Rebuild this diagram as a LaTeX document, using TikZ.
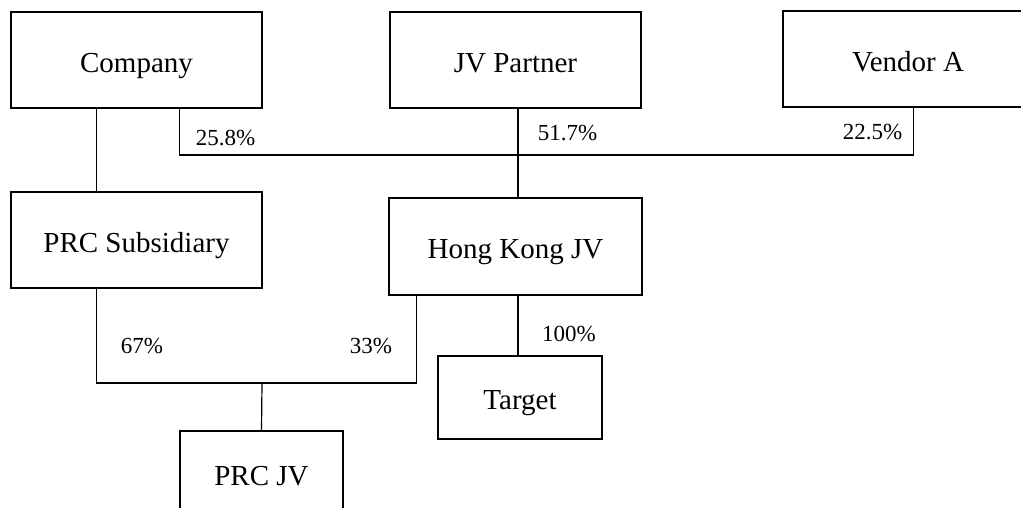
\documentclass[tikz,border=0pt]{standalone}
\usepackage{fontspec}
\setmainfont{Liberation Serif}
\begin{document}
\begin{tikzpicture}[x=1pt,y=-1pt,
  box/.style={draw,line width=1.2pt,inner sep=0pt,text height=24.2pt,text depth=0pt,font=\fontsize{29}{34}\selectfont},
  pct/.style={inner sep=0pt,text height=15.5pt,text depth=0pt,font=\fontsize{23}{27}\selectfont},
  conn/.style={line width=1.2pt}]
\useasboundingbox (0,0) rectangle (1021,507);
\clip (0,0) rectangle (1021,507);
% boxes
\node[box,minimum width=251pt,minimum height=96pt] (company) at (136.5,60) {Company};
\node[box,minimum width=251pt,minimum height=96pt] (jvp) at (515.5,60) {JV Partner};
\node[box,minimum width=250pt,minimum height=96pt] (vendor) at (908,59) {Vendor A};
\node[box,minimum width=251pt,minimum height=96pt] (prcsub) at (136.5,240) {PRC Subsidiary};
\node[box,minimum width=253pt,minimum height=97pt] (hk) at (515.5,246.5) {Hong Kong JV};
\node[box,minimum width=164pt,minimum height=83pt] (target) at (520,397.5) {Target};
\node[box,minimum width=163pt,minimum height=84pt] (prcjv) at (261.5,473) {PRC JV};
% bus coordinates
\coordinate (bus) at (518,155);
\coordinate (bus2) at (262,383);
% connectors
\draw[conn] ([xshift=86pt]company.south west) -- ([xshift=86pt]prcsub.north west);
\draw[conn] ([xshift=169pt]company.south west) |- (bus) -| ([xshift=131pt]vendor.south west);
\draw[conn] ([xshift=2.5pt]jvp.south) -- ([xshift=2.5pt]hk.north);
\draw[conn] ([xshift=86pt]prcsub.south west) |- (bus2) -| ([xshift=28pt]hk.south west);
\draw[conn] (bus2) -- (prcjv.north);
\draw[conn] ([xshift=2.5pt]hk.south) -- ([xshift=-2pt]target.north);
% labels
\node[pct] (l1) at (225.5,137.5) {25.8\%};
\node[pct] (l2) at (567.5,133) {51.7\%};
\node[pct] (l3) at (872.5,132) {22.5\%};
\node[pct] (l4) at (142,345.5) {67\%};
\node[pct] (l5) at (371,345.5) {33\%};
\node[pct] (l6) at (569,333.5) {100\%};
\end{tikzpicture}
\end{document}
